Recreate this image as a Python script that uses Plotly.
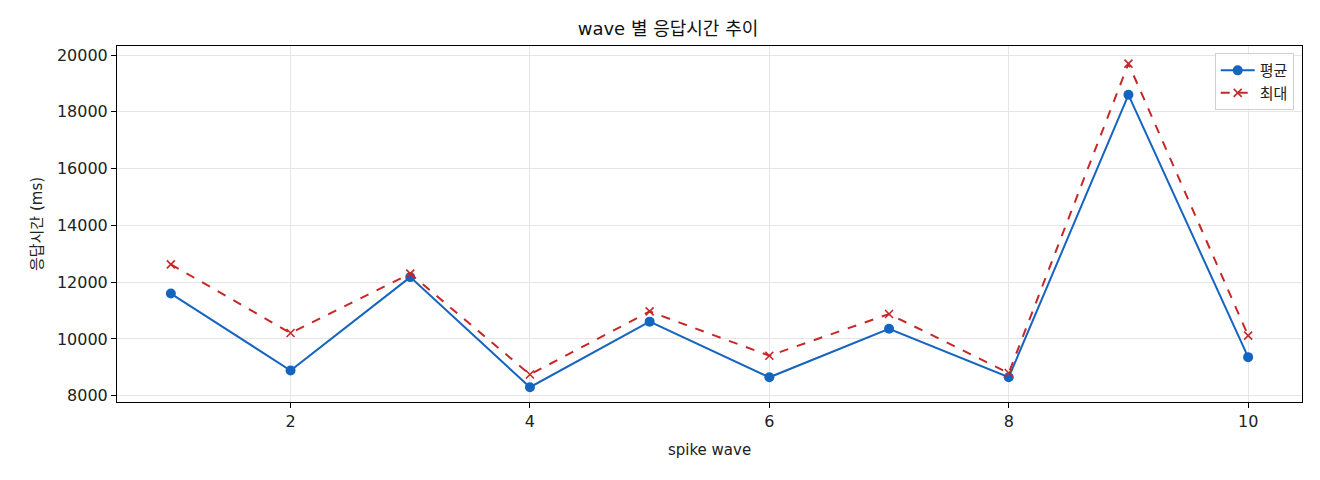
import plotly.graph_objects as go

# 데이터
waves = [1, 2, 3, 4, 5, 6, 7, 8, 9, 10]
avg_ms = [11600, 8890, 12180, 8300, 10610, 8650, 10360, 8650, 18600, 9360]
max_ms = [12630, 10210, 12300, 8750, 10970, 9410, 10880, 8800, 19700, 10120]
y_ticks = [8000, 10000, 12000, 14000, 16000, 18000, 20000]
x_ticks = [2, 4, 6, 8, 10]

BLUE = "#1565C0"
RED = "#C62828"
FONT = "DejaVu Sans, Noto Sans CJK KR"

fig = go.Figure()

fig.add_trace(go.Scatter(
    x=waves, y=avg_ms,
    mode="lines+markers",
    name="평균",
    line=dict(color=BLUE, width=2),
    marker=dict(symbol="circle", size=10, color=BLUE)
))

fig.add_trace(go.Scatter(
    x=waves, y=max_ms,
    mode="lines+markers",
    name="최대",
    line=dict(color=RED, width=2, dash="dash"),
    marker=dict(symbol="x-thin", size=8, color=RED, line=dict(color=RED, width=1.6))
))

axis_common = dict(
    showline=True, linecolor="black", linewidth=1, mirror=True,
    ticks="outside", ticklen=5, tickcolor="black", tickwidth=1,
    showgrid=True, gridcolor="#e6e6e6", gridwidth=1,
    zeroline=False, automargin=False,
    tickfont=dict(family=FONT, size=16, color="#222"),
)

# 페이지 body 여백(8px)을 감안한 여백 값
fig.update_layout(
    width=1320, height=480,
    margin=dict(l=109, r=26, t=38, b=86),
    paper_bgcolor="white", plot_bgcolor="white",
    font=dict(family=FONT, color="#222"),
    title=dict(text="wave 별 응답시간 추이", x=0.5, xanchor="center",
               y=1 - 21 / 480, yanchor="middle", font=dict(family=FONT, size=18, color="#111")),
    xaxis=dict(axis_common, range=[0.55, 10.45], tickvals=x_ticks, tickformat="d",
               title=dict(text="spike wave", font=dict(family=FONT, size=15), standoff=14)),
    yaxis=dict(axis_common, range=[7780, 20320], tickvals=y_ticks, tickformat="d",
               title=dict(text="응답시간 (ms)", font=dict(family=FONT, size=15), standoff=10)),
    legend=dict(
        x=0.993, y=0.98, xanchor="right", yanchor="top",
        bgcolor="rgba(255,255,255,0.8)", bordercolor="#d0d0d0", borderwidth=1,
        font=dict(family=FONT, size=15), itemwidth=34,
        tracegroupgap=2,
    ),
    showlegend=True,
)

fig.write_html("out.html")
